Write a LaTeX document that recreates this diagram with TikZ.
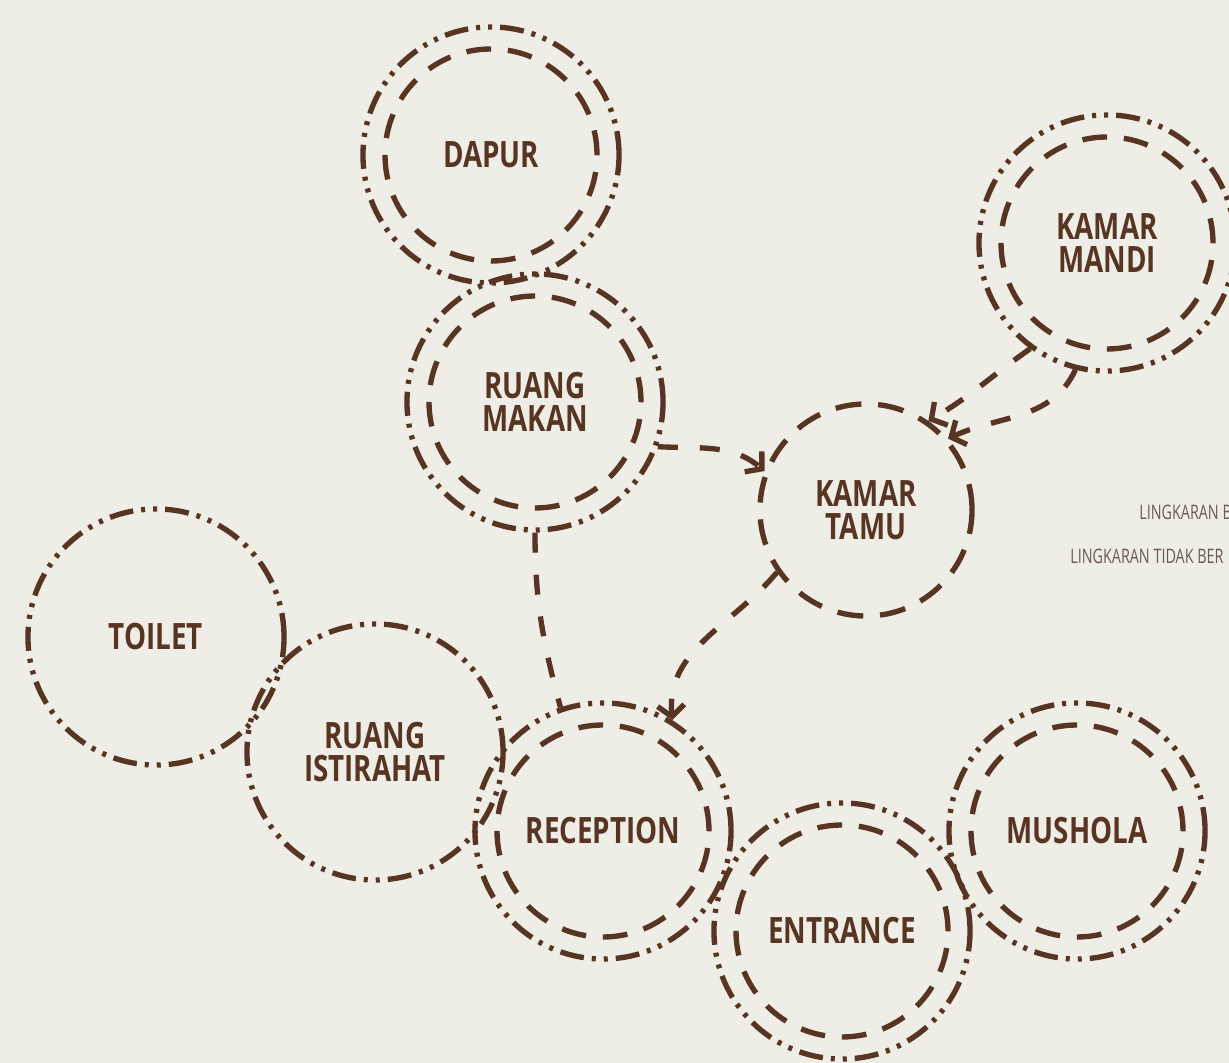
\documentclass[tikz,border=0pt]{standalone}
\usepackage{fontspec}
\setmainfont{Open Sans}
\newfontfamily\roomfont[FakeStretch=0.765]{Open Sans}
\newfontfamily\notefont[FakeStretch=0.72]{Open Sans}
\usepackage{tikz}
\usetikzlibrary{arrows.meta}
\definecolor{roombrown}{HTML}{583422}
\definecolor{paper}{HTML}{EEEDE6}
\definecolor{notegrey}{HTML}{6B5A50}

\begin{document}
\begin{tikzpicture}[x=0.025cm,y=0.025cm,>={Straight Barb[length=8pt,width=19pt]},
  room/.style={circle,draw=roombrown,line width=3.8pt,text=roombrown,align=center,
    font=\roomfont\bfseries\fontsize{25.8}{23.4}\selectfont},
  outer ring/.style={room,minimum size=6.4cm,
    dash pattern=on 0.6cm off 0.2cm on 0.1cm off 0.2cm on 0.1cm off 0.2cm},
  dashed ring/.style={room,minimum size=5.3cm,dash pattern=on 0.65cm off 0.42cm},
  inner ring/.style={draw=roombrown,line width=3.8pt,dash pattern=on 0.62cm off 0.42cm},
  link/.style={draw=roombrown,line width=3.8pt,dash pattern=on 0.5cm off 0.55cm},
  note/.style={anchor=west,inner sep=0pt,text=notegrey,
    font=\notefont\fontsize{14.2}{16}\selectfont}]

  \useasboundingbox (0,0) rectangle (1229,1063);
  \fill[paper] (0,0) rectangle (1229,1063);

  % rooms
  \node[outer ring] (dapur) at (491,908) {DAPUR};
  \node[outer ring] (mandi) at (1107,820) {KAMAR\\MANDI};
  \node[outer ring] (makan) at (535,661) {RUANG\\MAKAN};
  \node[dashed ring] (tamu) at (866,553) {KAMAR\\TAMU};
  \node[outer ring] (toilet) at (156,426) {TOILET};
  \node[outer ring] (istirahat) at (375,311) {RUANG\\ISTIRAHAT};
  \node[outer ring] (reception) at (603,232) {RECEPTION};
  \node[outer ring] (entrance) at (842,132) {ENTRANCE};
  \node[outer ring] (mushola) at (1077,232) {MUSHOLA};

  \foreach \n in {dapur,mandi,makan,reception,entrance,mushola}
    \draw[inner ring] (\n.center) circle[radius=106];

  % links
  \draw[link,->] (makan.-20) to[out=-3,in=140] (tamu.159);
  \draw[link,->] (mandi.-126) to[out=-145,in=30] (tamu.55);
  \draw[link,->] (mandi.-104) to[out=-115,in=25] (tamu.41);
  \draw[link,->] (tamu.-145) to[out=-130,in=95] (reception.58);
  \draw[link] (makan.-90) to[out=-90,in=105] (reception.109);

  % legend
  \node[note] (bersinggungan) at (1139,551) {LINGKARAN B};
  \node[note] (tidak) at (1070,507) {LINGKARAN TIDAK BER};
\end{tikzpicture}
\end{document}
